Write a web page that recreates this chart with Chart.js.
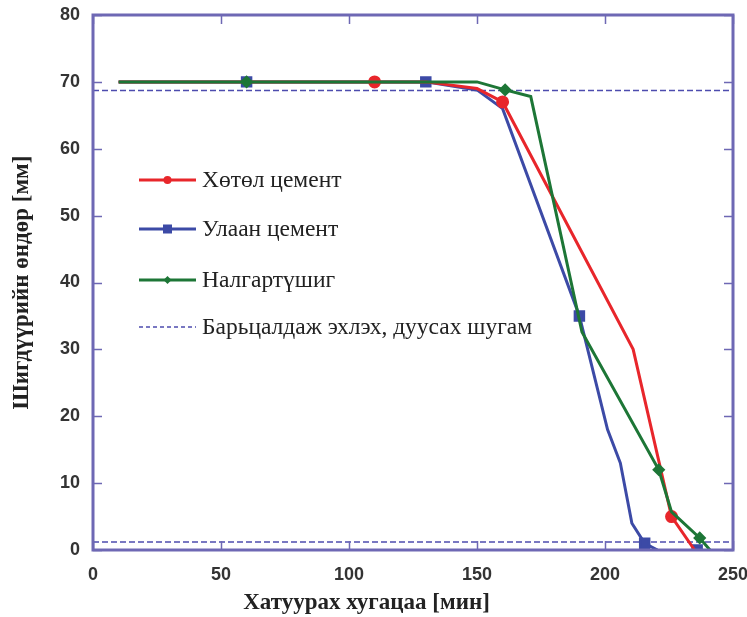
<!DOCTYPE html>
<html>
<head>
<meta charset="utf-8">
<script src="https://cdn.jsdelivr.net/npm/chart.js@4.4.1/dist/chart.umd.min.js"></script>
<style>
  html, body { margin: 0; padding: 0; background: #fff; }
  #wrap { width: 747px; height: 617px; }
</style>
</head>
<body>
<div id="wrap"><canvas id="chart" width="747" height="617"></canvas></div>
<script>
// ===== Data =====
const xTicks = [0, 50, 100, 150, 200, 250];
const yTicks = [0, 10, 20, 30, 40, 50, 60, 70, 80];

const seriesLabels = ['Хөтөл цемент', 'Улаан цемент', 'Налгартүшиг', 'Барьцалдаж эхлэх, дуусах шугам'];

// Хөтөл цемент
const redX = [10, 110, 130, 150, 160, 211, 226, 235];
const redY = [70, 70, 70, 69, 67, 30, 5, 0];
const redMarks = [0, 1, 0, 0, 1, 0, 1, 0];

// Улаан цемент (last point is a lone marker)
const blueX = [10, 60, 130, 150, 160, 190, 201, 206, 210.5, 215.5, 220.5, 236, 236];
const blueY = [70, 70, 70, 68.8, 66, 35, 18, 13, 4, 1, 0, null, 0];
const blueMarks = [0, 1, 1, 0, 0, 1, 0, 0, 0, 1, 0, 0, 1];

// Налгартүшиг
const greenX = [10, 60, 150, 161, 171, 191, 221, 226, 237, 241];
const greenY = [70, 70, 70, 68.8, 67.8, 32.6, 12, 5.7, 1.8, 0];
const greenMarks = [0, 1, 0, 1, 0, 0, 1, 0, 1, 0];

// start / end setting lines
const setLineStart = 68.7;
const setLineEnd = 1.2;

// ===== Styles =====
const RED = '#e8262b';
const BLUE = '#3c4aa6';
const GREEN = '#1d7636';
const DASH = '#4d4cae';
const FRAME = '#6e68b4';

function toPoints(xs, ys) {
  return xs.map((x, i) => ({ x, y: ys[i] }));
}

const dashedPoints = [
  { x: 0, y: setLineStart }, { x: 250, y: setLineStart },
  { x: 250, y: null },
  { x: 0, y: setLineEnd }, { x: 250, y: setLineEnd }
];

// ===== Plugins =====
const frameAndTicks = {
  id: 'frameAndTicks',
  afterDatasetsDraw(chart) {
    const { ctx, chartArea: a, scales } = chart;
    ctx.save();
    ctx.strokeStyle = FRAME;
    ctx.lineWidth = 1.5;
    const len = 9;
    xTicks.forEach(v => {
      const px = Math.round(scales.x.getPixelForValue(v)) + 0.5;
      ctx.beginPath();
      ctx.moveTo(px, a.bottom); ctx.lineTo(px, a.bottom - len);
      ctx.moveTo(px, a.top); ctx.lineTo(px, a.top + len);
      ctx.stroke();
    });
    yTicks.forEach(v => {
      const py = Math.round(scales.y.getPixelForValue(v)) + 0.5;
      ctx.beginPath();
      ctx.moveTo(a.left, py); ctx.lineTo(a.left + len, py);
      ctx.moveTo(a.right, py); ctx.lineTo(a.right - len, py);
      ctx.stroke();
    });
    ctx.lineWidth = 3;
    ctx.strokeRect(a.left, a.top, a.right - a.left, a.bottom - a.top);
    ctx.restore();
  }
};

const insideLegend = {
  id: 'insideLegend',
  afterDraw(chart) {
    const { ctx } = chart;
    const rows = [
      { y: 180, color: RED, marker: 'circle' },
      { y: 229, color: BLUE, marker: 'square' },
      { y: 280, color: GREEN, marker: 'diamond' },
      { y: 327, color: DASH, marker: 'dash' }
    ];
    ctx.save();
    ctx.font = '23.5px "Liberation Serif", "Times New Roman", serif';
    ctx.textBaseline = 'middle';
    rows.forEach((r, i) => {
      const x0 = 139, x1 = 196, xm = (x0 + x1) / 2;
      ctx.strokeStyle = r.color;
      ctx.fillStyle = r.color;
      if (r.marker === 'dash') {
        ctx.lineWidth = 1.5;
        ctx.setLineDash([4, 3]);
      } else {
        ctx.lineWidth = 3;
        ctx.setLineDash([]);
      }
      ctx.beginPath();
      ctx.moveTo(x0, r.y); ctx.lineTo(x1, r.y);
      ctx.stroke();
      ctx.setLineDash([]);
      if (r.marker === 'circle') {
        ctx.beginPath(); ctx.arc(xm, r.y, 4, 0, Math.PI * 2); ctx.fill();
      } else if (r.marker === 'square') {
        ctx.fillRect(xm - 4.5, r.y - 4.5, 9, 9);
      } else if (r.marker === 'diamond') {
        ctx.beginPath();
        ctx.moveTo(xm, r.y - 4); ctx.lineTo(xm + 4, r.y);
        ctx.lineTo(xm, r.y + 4); ctx.lineTo(xm - 4, r.y);
        ctx.closePath(); ctx.fill();
      }
      ctx.fillStyle = '#222';
      ctx.fillText(seriesLabels[i], 202, r.y + 1);
    });
    ctx.restore();
  }
};

// ===== Chart =====
new Chart(document.getElementById('chart'), {
  type: 'line',
  data: {
    datasets: [
      {
        label: seriesLabels[2],
        data: toPoints(greenX, greenY),
        borderColor: GREEN, backgroundColor: GREEN,
        borderWidth: 3,
        pointStyle: 'rectRot',
        pointRadius: greenMarks.map(m => m ? 4.5 : 0),
        order: 0
      },
      {
        label: seriesLabels[0],
        data: toPoints(redX, redY),
        borderColor: RED, backgroundColor: RED,
        borderWidth: 3,
        pointStyle: 'circle',
        pointRadius: redMarks.map(m => m ? 5 : 0),
        order: 1
      },
      {
        label: seriesLabels[1],
        data: toPoints(blueX, blueY),
        borderColor: BLUE, backgroundColor: BLUE,
        borderWidth: 3,
        pointStyle: 'rect',
        pointRadius: blueMarks.map(m => m ? 6 : 0),
        order: 2
      },
      {
        label: seriesLabels[3],
        data: dashedPoints,
        borderColor: DASH,
        borderWidth: 1.5,
        borderDash: [6, 3],
        pointRadius: 0,
        order: 3
      }
    ]
  },
  options: {
    responsive: false,
    animation: false,
    spanGaps: false,
    layout: { padding: { top: 15, right: 14, left: 0, bottom: 0 } },
    plugins: {
      legend: { display: false },
      tooltip: { enabled: false },
      // x-axis title, centred on the whole canvas like the original
      title: {
        display: true,
        position: 'bottom',
        text: 'Хатуурах хугацаа [мин]',
        color: '#222',
        padding: { top: 4, bottom: 0 },
        font: { family: '"Liberation Serif", "Times New Roman", serif', size: 23, weight: 'bold', lineHeight: 1.2 }
      }
    },
    elements: { line: { tension: 0 } },
    scales: {
      x: {
        type: 'linear', min: 0, max: 250,
        afterBuildTicks: s => { s.ticks = xTicks.map(v => ({ value: v })); },
        afterFit: s => { s.height = 67 - 31.6; s.paddingLeft = 0; s.paddingRight = 0; },
        grid: { display: false, drawTicks: false },
        border: { display: false },
        ticks: {
          padding: 14,
          color: '#333',
          font: { family: '"Liberation Sans", Arial, sans-serif', size: 18, weight: 'bold' }
        }
      },
      y: {
        type: 'linear', min: 0, max: 80,
        afterBuildTicks: s => { s.ticks = yTicks.map(v => ({ value: v })); },
        afterFit: s => { s.width = 93; s.paddingTop = 0; s.paddingBottom = 0; },
        grid: { display: false, drawTicks: false },
        border: { display: false },
        ticks: {
          padding: 13,
          color: '#333',
          font: { family: '"Liberation Sans", Arial, sans-serif', size: 18, weight: 'bold' }
        },
        title: {
          display: true,
          text: 'Шигдүүрийн өндөр [мм]',
          color: '#222',
          padding: { top: 8, bottom: 4 },
          font: { family: '"Liberation Serif", "Times New Roman", serif', size: 23, weight: 'bold' }
        }
      }
    }
  },
  plugins: [frameAndTicks, insideLegend]
});
</script>
</body>
</html>
